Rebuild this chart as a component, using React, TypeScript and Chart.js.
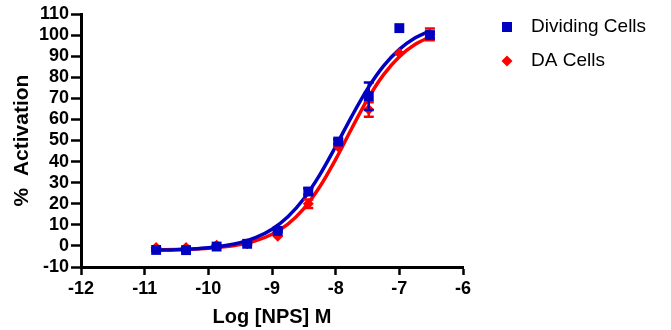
import { useEffect, useRef } from 'react';
import { Chart, registerables } from 'chart.js';

Chart.register(...registerables);

// ---- data ----
const logConc = [-10.82, -10.35, -9.87, -9.39, -8.91, -8.43, -7.96, -7.48, -7.0, -6.52];
const dividingMean = [-1.9, -2.0, -0.3, 1.0, 7.1, 25.8, 49.5, 71.0, 103.3, 100.0];
const dividingErr = [0.5, 0.5, 0.5, 0.5, 0.5, 1.5, 1.0, 6.5, 0, 1.5];
const daMean = [-0.7, -0.7, 0.3, 1.0, 4.6, 20.0, 47.0, 64.7, 91.4, 100.3];
const daErr = [0, 0, 0, 0, 0, 2.0, 0, 3.4, 0, 2.8];

// fitted curve samples
const fitX = [-10.82, -10.5, -10.25, -10, -9.75, -9.5, -9.25, -9, -8.75, -8.5, -8.25, -8, -7.75, -7.5, -7.25, -7, -6.75, -6.52];
const dividingFit = [-2.04, -1.8, -1.46, -0.9, 0.04, 1.57, 4.04, 7.94, 13.87, 22.39, 33.69, 47.16, 61.35, 74.49, 85.24, 93.21, 98.68, 102.02];
const daFit = [-1.85, -1.7, -1.48, -1.1, -0.45, 0.65, 2.49, 5.53, 10.37, 17.72, 28.04, 41.09, 55.59, 69.5, 81.12, 89.74, 95.61, 99.11];

const seriesNames = ['Dividing Cells', 'DA Cells'];
const xTitle = 'Log [NPS] M';
const yTitle = '%  Activation';
const xMin = -12, xMax = -6, xStep = 1;
const yMin = -10, yMax = 110, yStep = 10;

const BLUE = '#0000C0';
const RED = '#FF0000';
const FONT = '"Liberation Sans", Arial, Helvetica, sans-serif';

const pts = (xs: number[], ys: number[]) => xs.map((x, i) => ({ x, y: ys[i] }));

const errorBarPlugin = {
  id: 'errorBars',
  afterDatasetDraw(chart: any, args: any) {
    const ds = chart.data.datasets[args.index];
    if (!ds.errors) return;
    const meta = args.meta;
    const yScale = chart.scales.y;
    const ctx = chart.ctx;
    ctx.save();
    ctx.strokeStyle = ds.backgroundColor;
    ctx.lineWidth = 2.5;
    meta.data.forEach((el: any, i: number) => {
      const e = ds.errors[i];
      if (!e) return;
      const v = ds.data[i].y;
      const yt = yScale.getPixelForValue(v + e);
      const yb = yScale.getPixelForValue(v - e);
      const x = el.x;
      ctx.beginPath();
      ctx.moveTo(x, yt);
      ctx.lineTo(x, yb);
      ctx.moveTo(x - 5, yt);
      ctx.lineTo(x + 5, yt);
      ctx.moveTo(x - 5, yb);
      ctx.lineTo(x + 5, yb);
      ctx.stroke();
    });
    ctx.restore();
  },
};

const legendPlugin = {
  id: 'customLegend',
  afterDraw(chart: any) {
    const ctx = chart.ctx;
    ctx.save();
    const mx = chart.chartArea.right + 44;
    const tx = chart.chartArea.right + 68;
    const y1 = 27;
    const y2 = 61;
    ctx.fillStyle = BLUE;
    ctx.fillRect(mx - 5, y1 - 5, 10, 10);
    ctx.fillStyle = RED;
    ctx.beginPath();
    ctx.moveTo(mx, y2 - 5.5);
    ctx.lineTo(mx + 5.5, y2);
    ctx.lineTo(mx, y2 + 5.5);
    ctx.lineTo(mx - 5.5, y2);
    ctx.closePath();
    ctx.fill();
    ctx.fillStyle = '#000';
    ctx.font = `19px ${FONT}`;
    ctx.textBaseline = 'middle';
    ctx.textAlign = 'left';
    ctx.fillText(seriesNames[0], tx, y1);
    ctx.fillText(seriesNames[1], tx, y2);
    ctx.restore();
  },
};

export default function App() {
  const ref = useRef<HTMLCanvasElement | null>(null);
  useEffect(() => {
    if (!ref.current) return;
    Chart.defaults.font.family = FONT;
    const chart = new Chart(ref.current, {
      type: 'scatter',
      data: {
        datasets: [
          {
            label: seriesNames[0],
            data: pts(logConc, dividingMean),
            errors: dividingErr,
            backgroundColor: BLUE,
            borderColor: BLUE,
            borderWidth: 0,
            pointStyle: 'rect',
            pointRadius: 7,
            order: 0,
          } as any,
          {
            label: seriesNames[1],
            data: pts(logConc, daMean),
            errors: daErr,
            backgroundColor: RED,
            borderColor: RED,
            borderWidth: 0,
            pointStyle: 'rectRot',
            pointRadius: 5.5,
            order: 1,
          } as any,
          {
            label: seriesNames[0] + ' fit',
            data: pts(fitX, dividingFit),
            showLine: true,
            borderColor: BLUE,
            backgroundColor: BLUE,
            borderWidth: 3.5,
            pointRadius: 0,
            cubicInterpolationMode: 'monotone',
            order: 2,
          } as any,
          {
            label: seriesNames[1] + ' fit',
            data: pts(fitX, daFit),
            showLine: true,
            borderColor: RED,
            backgroundColor: RED,
            borderWidth: 3.5,
            pointRadius: 0,
            cubicInterpolationMode: 'monotone',
            order: 3,
          } as any,
        ],
      },
      options: {
        animation: false,
        responsive: false,
        devicePixelRatio: 1,
        layout: { padding: { top: 14, right: 208, bottom: 0, left: 0 } },
        plugins: { legend: { display: false }, tooltip: { enabled: false } },
        scales: {
          x: {
            type: 'linear',
            min: xMin,
            max: xMax,
            afterFit: (s: any) => { s.height = 63; },
            ticks: {
              stepSize: xStep,
              autoSkip: false,
              color: '#000',
              font: { size: 18, weight: 'bold' },
              padding: 3,
            },
            grid: { drawOnChartArea: false, drawTicks: true, tickLength: 8, tickWidth: 2.5, tickColor: '#000', color: '#000' },
            border: { display: true, color: '#000', width: 3 },
            title: { display: true, text: xTitle, color: '#000', font: { size: 20, weight: 'bold' }, padding: { top: 0, bottom: 1 } },
          },
          y: {
            type: 'linear',
            min: yMin,
            max: yMax,
            afterFit: (s: any) => { s.width = 81; },
            ticks: {
              stepSize: yStep,
              autoSkip: false,
              color: '#000',
              font: { size: 18, weight: 'bold', lineHeight: 1 },
              padding: 2,
            },
            grid: { drawOnChartArea: false, drawTicks: true, tickLength: 10, tickWidth: 2.5, tickColor: '#000', color: '#000' },
            border: { display: true, color: '#000', width: 3 },
            title: { display: true, text: yTitle, color: '#000', font: { size: 21, weight: 'bold' }, padding: { top: 10, bottom: 0 } },
          },
        },
      } as any,
      plugins: [errorBarPlugin, legendPlugin],
    });
    return () => chart.destroy();
  }, []);
  return (
    <div style={{ position: 'fixed', left: 0, top: 0, width: 671, height: 330, background: '#fff' }}>
      <canvas ref={ref} width={671} height={330} style={{ width: 671, height: 330 }} />
    </div>
  );
}
